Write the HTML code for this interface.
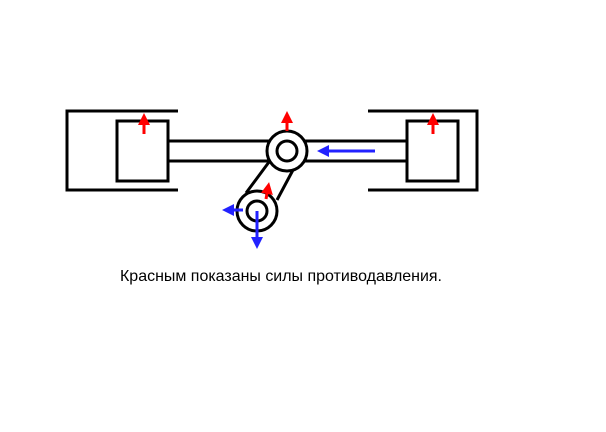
<!DOCTYPE html>
<html><head><style>body{margin:0;background:#fff;width:606px;height:432px;overflow:hidden}
svg{display:block}</style></head><body>
<svg width="606" height="432" viewBox="0 0 606 432">
<defs>
<marker id="r" markerWidth="4" markerHeight="4" refX="2" refY="2" orient="auto"><path d="M0,0 L4,2 L0,4z" fill="#f00"/></marker>
<marker id="b" markerWidth="4" markerHeight="4" refX="2" refY="2" orient="auto"><path d="M0,0 L4,2 L0,4z" fill="#22f"/></marker>
</defs>
<g stroke="#000" stroke-width="3" fill="none">
<path d="M178,111 H67 V190 H178"/>
<rect x="117" y="121" width="51" height="60"/>
<path d="M168,141 H270 M168,161 H270"/>
<path d="M368,111 H477 V190 H368"/>
<rect x="407" y="121" width="51" height="60"/>
<path d="M305,141 H407 M305,161 H407"/>
<path d="M269,162 L246,193 M293,170 L277,200"/>
<circle cx="287" cy="151" r="20" fill="#fff"/>
<circle cx="287" cy="151" r="10"/>
<circle cx="257" cy="211" r="20" fill="#fff"/>
<circle cx="257" cy="211" r="10"/>
</g>
<g stroke-width="3" fill="none">
<path d="M144,134 V119" stroke="#f00" marker-end="url(#r)"/>
<path d="M433,134 V119" stroke="#f00" marker-end="url(#r)"/>
<path d="M287,131 V117" stroke="#f00" marker-end="url(#r)"/>
<path d="M266,199 L268,188" stroke="#f00" marker-end="url(#r)"/>
<path d="M375,151 H323" stroke="#22f" marker-end="url(#b)"/>
<path d="M243,210 H228" stroke="#22f" marker-end="url(#b)"/>
<path d="M257,211 V243" stroke="#22f" marker-end="url(#b)"/>
</g>
<text x="281" y="281" text-anchor="middle" font-family="Liberation Sans, sans-serif" font-size="16" textLength="322" lengthAdjust="spacingAndGlyphs" fill="#000">Красным показаны силы противодавления.</text>
</svg>
</body></html>
